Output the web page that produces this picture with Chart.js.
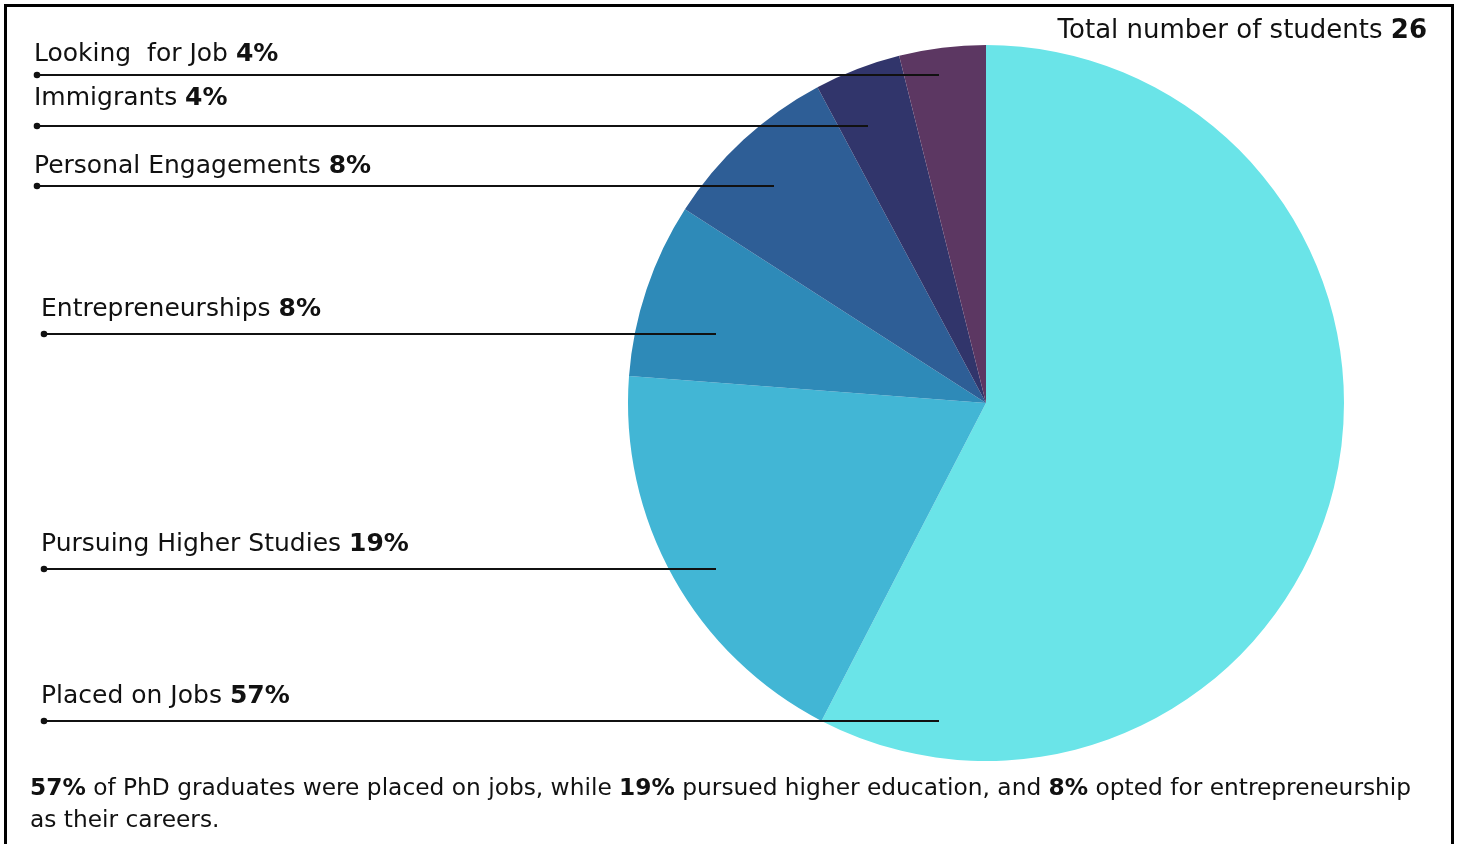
<!DOCTYPE html>
<html>
<head>
<meta charset="utf-8">
<script src="https://cdn.jsdelivr.net/npm/chart.js@4.4.1/dist/chart.umd.min.js"></script>
<style>
  html, body { margin: 0; padding: 0; background: #fff; }
  #wrap { width: 1459px; height: 844px; position: relative; }
</style>
</head>
<body>
<div id="wrap"><canvas id="pie"></canvas></div>
<script>
const categories = ["Placed on Jobs", "Pursuing Higher Studies", "Entrepreneurships",
  "Personal Engagements", "Immigrants", "Looking  for Job"];
const sliceShares = [57.6, 18.6, 7.9, 8.1, 3.9, 3.9];
const percentLabels = ["57%", "19%", "8%", "8%", "4%", "4%"];
const sliceColors = ["#6AE4E8", "#42B6D5", "#2E8AB8", "#2E5E96", "#31356B", "#5C3762"];
const totalStudents = 26;

const FONT = '"DejaVu Sans", "Noto Sans", sans-serif';

// label placement (layout only): text x, line y, line end relative to pie centre (in px at radius 358)
const callouts = [
  { x: 41, lineY: 721, end: [-47, 318] },
  { x: 41, lineY: 569, end: [-270, 166] },
  { x: 41, lineY: 334, end: [-270, -69] },
  { x: 34, lineY: 186, end: [-212, -217] },
  { x: 34, lineY: 126, end: [-118, -277] },
  { x: 34, lineY: 75, end: [-47, -328] },
];
const labelGap = [18, 18, 18, 13, 21, 14];

// draws a run of [text, bold] pieces starting at x
function drawRuns(ctx, runs, x, y, size) {
  runs.forEach(([txt, bold]) => {
    ctx.font = (bold ? "bold " : "") + size + "px " + FONT;
    ctx.fillText(txt, x, y);
    x += ctx.measureText(txt).width;
  });
}
function runsWidth(ctx, runs, size) {
  let w = 0;
  runs.forEach(([txt, bold]) => {
    ctx.font = (bold ? "bold " : "") + size + "px " + FONT;
    w += ctx.measureText(txt).width;
  });
  return w;
}

const annotations = {
  id: "annotations",
  afterDraw(chart) {
    const ctx = chart.ctx;
    const arc = chart.getDatasetMeta(0).data[0];
    const cx = arc.x, R = arc.outerRadius;
    ctx.save();
    ctx.fillStyle = "#111";
    ctx.strokeStyle = "#111";
    ctx.textBaseline = "alphabetic";

    // leader lines + labels
    callouts.forEach((c, i) => {
      const ex = cx + c.end[0] / 358 * R;
      const dotX = c.x + 3;
      ctx.lineWidth = 2;
      ctx.beginPath();
      ctx.moveTo(dotX, c.lineY);
      ctx.lineTo(ex, c.lineY);
      ctx.stroke();
      ctx.beginPath();
      ctx.arc(dotX, c.lineY, 3.3, 0, Math.PI * 2);
      ctx.fill();
      drawRuns(ctx, [[categories[i] + " ", false], [percentLabels[i], true]],
        c.x, c.lineY - labelGap[i], 25);
    });

    // total in the top right corner
    const totalRuns = [["Total number of students ", false], [String(totalStudents), true]];
    drawRuns(ctx, totalRuns, 1427 - runsWidth(ctx, totalRuns, 26), 38, 26);

    // footer note
    drawRuns(ctx, [[percentLabels[0], true], [" of PhD graduates were placed on jobs, while ", false],
      [percentLabels[1], true], [" pursued higher education, and ", false],
      [percentLabels[2], true], [" opted for entrepreneurship", false]], 30, 795, 23.3);
    drawRuns(ctx, [["as their careers.", false]], 30, 827, 23.3);

    // frame
    ctx.lineWidth = 3;
    ctx.strokeStyle = "#000";
    ctx.beginPath();
    ctx.moveTo(5.5, 850);
    ctx.lineTo(5.5, 5.5);
    ctx.lineTo(1452.5, 5.5);
    ctx.lineTo(1452.5, 850);
    ctx.stroke();
    ctx.restore();
  }
};

new Chart(document.getElementById("pie"), {
  type: "pie",
  data: {
    labels: categories,
    datasets: [{
      data: sliceShares,
      backgroundColor: sliceColors,
      borderWidth: 0,
    }],
  },
  options: {
    responsive: true,
    maintainAspectRatio: false,
    animation: false,
    layout: { padding: { left: 628, right: 115, top: 45, bottom: 83 } },
    plugins: {
      legend: { display: false },
      tooltip: { enabled: false },
    },
  },
  plugins: [annotations],
});
</script>
</body>
</html>
